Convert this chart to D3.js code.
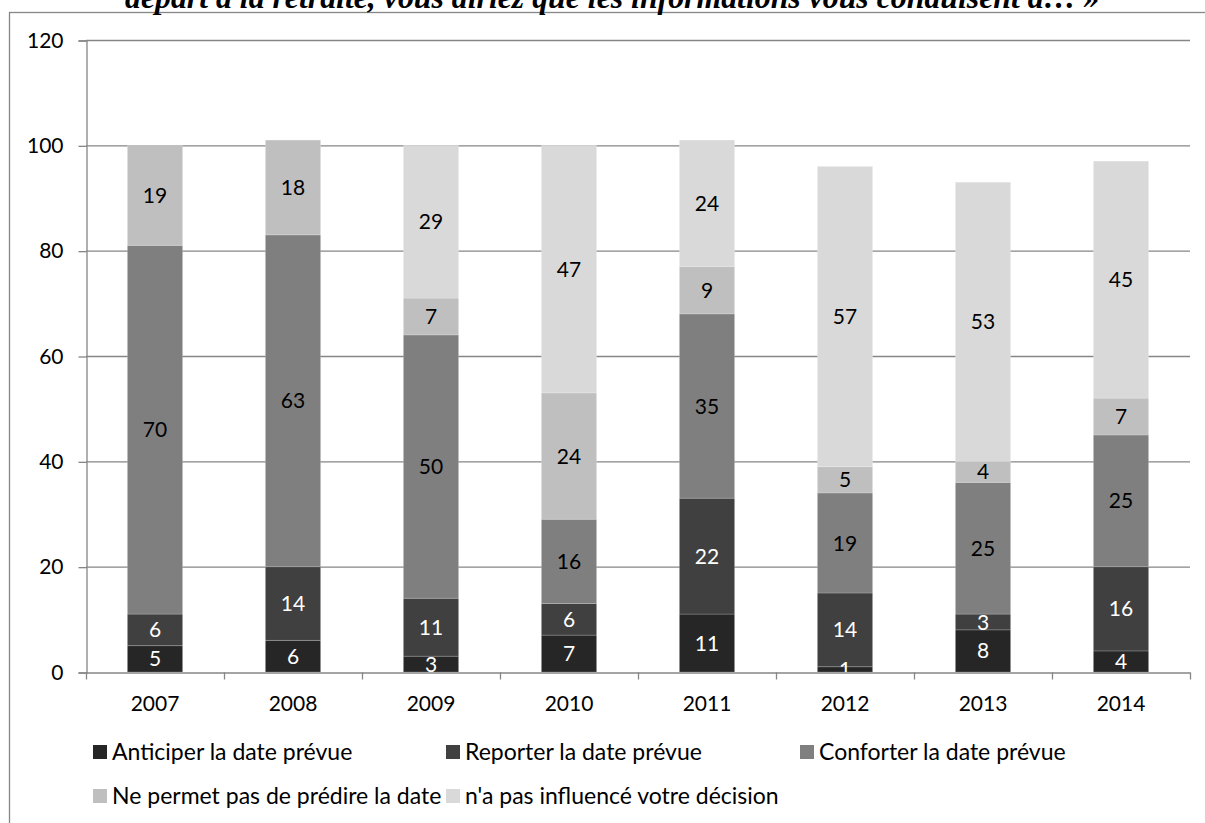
<!DOCTYPE html>
<html>
<head>
<meta charset="utf-8">
<script src="https://cdn.jsdelivr.net/npm/d3@7"></script>
<style>
  html, body { margin: 0; padding: 0; background: #fff; }
  svg { display: block; }
</style>
</head>
<body>
<svg id="chart" width="1205" height="823"></svg>
<script>
// Survey years
const years = ["2007", "2008", "2009", "2010", "2011", "2012", "2013", "2014"];

// Answer categories (stack order, bottom to top)
const seriesNames = [
  "Anticiper la date prévue",
  "Reporter la date prévue",
  "Conforter la date prévue",
  "Ne permet pas de prédire la date",
  "n'a pas influencé votre décision"
];

// Percentages per year for each answer
const anticiper   = [5, 6, 3, 7, 11, 1, 8, 4];
const reporter    = [6, 14, 11, 6, 22, 14, 3, 16];
const conforter   = [70, 63, 50, 16, 35, 19, 25, 25];
const nePermetPas = [19, 18, 7, 24, 9, 5, 4, 7];
const naPasInflue = [0, 0, 29, 47, 24, 57, 53, 45];

const yTicks = [0, 20, 40, 60, 80, 100, 120];

const titleText = "départ à la retraite, vous diriez que les informations vous conduisent à… »";

const seriesValues = [anticiper, reporter, conforter, nePermetPas, naPasInflue];
const fills = ["#262626", "#404040", "#7f7f7f", "#bfbfbf", "#d9d9d9"];
const labelColors = ["#ffffff", "#ffffff", "#000000", "#000000", "#000000"];

const rows = years.map((y, i) => {
  const r = { year: y };
  seriesNames.forEach((s, k) => { r[s] = seriesValues[k][i]; });
  return r;
});

const svg = d3.select("#chart");
const font = "Lato, 'Open Sans', sans-serif";
const axisGrey = "#868686";

// Outer chart frame
svg.append("rect")
  .attr("x", 9.5).attr("y", 12.5)
  .attr("width", 1210).attr("height", 830)
  .attr("fill", "none").attr("stroke", axisGrey).attr("stroke-width", 1.3);

// Heading (its upper part runs above the frame)
const title = svg.append("text")
  .attr("x", 125).attr("y", 8)
  .attr("font-family", "'Liberation Serif', 'Times New Roman', serif")
  .attr("font-weight", "bold").attr("font-style", "italic")
  .attr("font-size", 28)
  .text(titleText);
const titleWidth = 975;
const w28 = title.node().getComputedTextLength();
title.attr("font-size", 28 * titleWidth / w28);

const plot = { left: 86, right: 1190, top: 40, bottom: 672 };

const x = d3.scaleBand()
  .domain(years)
  .range([plot.left, plot.right])
  .paddingInner(0.6).paddingOuter(0.3);

const y = d3.scaleLinear().domain([0, 120]).range([plot.bottom, plot.top]);

// Horizontal gridlines
svg.append("g").selectAll("line")
  .data(yTicks.filter(t => t > 0))
  .join("line")
  .attr("x1", plot.left).attr("x2", plot.right)
  .attr("y1", d => y(d) + 0.5).attr("y2", d => y(d) + 0.5)
  .attr("stroke", axisGrey).attr("stroke-width", 1.3);

// Stacked bars
const stack = d3.stack().keys(seriesNames)(rows);

const layers = svg.append("g").selectAll("g")
  .data(stack)
  .join("g")
  .attr("fill", (d, i) => fills[i]);

layers.selectAll("rect")
  .data(d => d.filter(p => p[1] - p[0] > 0))
  .join("rect")
  .attr("x", d => x(d.data.year))
  .attr("width", x.bandwidth())
  .attr("y", d => y(d[1]))
  .attr("height", d => y(d[0]) - y(d[1]))
  .attr("stroke", "rgba(255,255,255,0.18)")
  .attr("stroke-width", 1);

// Value labels
stack.forEach((layer, i) => {
  svg.append("g").selectAll("text")
    .data(layer.filter(p => p[1] - p[0] > 0))
    .join("text")
    .attr("x", d => x(d.data.year) + x.bandwidth() / 2)
    .attr("y", d => (y(d[0]) + y(d[1])) / 2)
    .attr("dy", "0.36em")
    .attr("text-anchor", "middle")
    .attr("font-family", font)
    .attr("font-size", 21)
    .attr("fill", labelColors[i])
    .text(d => d[1] - d[0]);
});

// Y axis
const yAxis = d3.axisLeft(y).tickValues(yTicks).tickSize(8).tickPadding(15);
const gy = svg.append("g")
  .attr("transform", `translate(${plot.left + 0.5},0.5)`)
  .call(yAxis);
gy.select(".domain").attr("stroke", axisGrey).attr("stroke-width", 1.3);
gy.selectAll(".tick line").attr("stroke", axisGrey).attr("stroke-width", 1.3);
gy.selectAll(".tick text")
  .attr("font-family", font).attr("font-size", 21).attr("fill", "#000");

// X axis with tick marks at category boundaries
const xAxis = d3.axisBottom(x).tickSize(0).tickPadding(24);
const gx = svg.append("g")
  .attr("transform", `translate(0,${plot.bottom + 0.5})`)
  .call(xAxis);
gx.select(".domain").attr("stroke", axisGrey).attr("stroke-width", 1.3);
gx.selectAll(".tick text")
  .attr("font-family", font).attr("font-size", 21).attr("fill", "#000");

const bounds = years.map(yr => x(yr) - x.step() * x.paddingInner() / 2 + 0.5);
bounds.push(plot.right + 0.5);
bounds[0] = plot.left + 0.5;
gx.append("g").selectAll("line")
  .data(bounds)
  .join("line")
  .attr("x1", d => d).attr("x2", d => d)
  .attr("y1", 0).attr("y2", 7)
  .attr("stroke", axisGrey).attr("stroke-width", 1.3);

// Legend
const legendPos = [
  { x: 93, y: 752 }, { x: 446, y: 752 }, { x: 800, y: 752 },
  { x: 93, y: 796 }, { x: 446, y: 796 }
];
const legend = svg.append("g").selectAll("g")
  .data(seriesNames)
  .join("g")
  .attr("transform", (d, i) => `translate(${legendPos[i].x},${legendPos[i].y})`);
legend.append("rect")
  .attr("x", 0).attr("y", -7).attr("width", 14).attr("height", 14)
  .attr("fill", (d, i) => fills[i]);
legend.append("text")
  .attr("x", 19).attr("y", 0).attr("dy", "0.36em")
  .attr("font-family", font).attr("font-size", 23).attr("fill", "#000")
  .text(d => d);
</script>
</body>
</html>
